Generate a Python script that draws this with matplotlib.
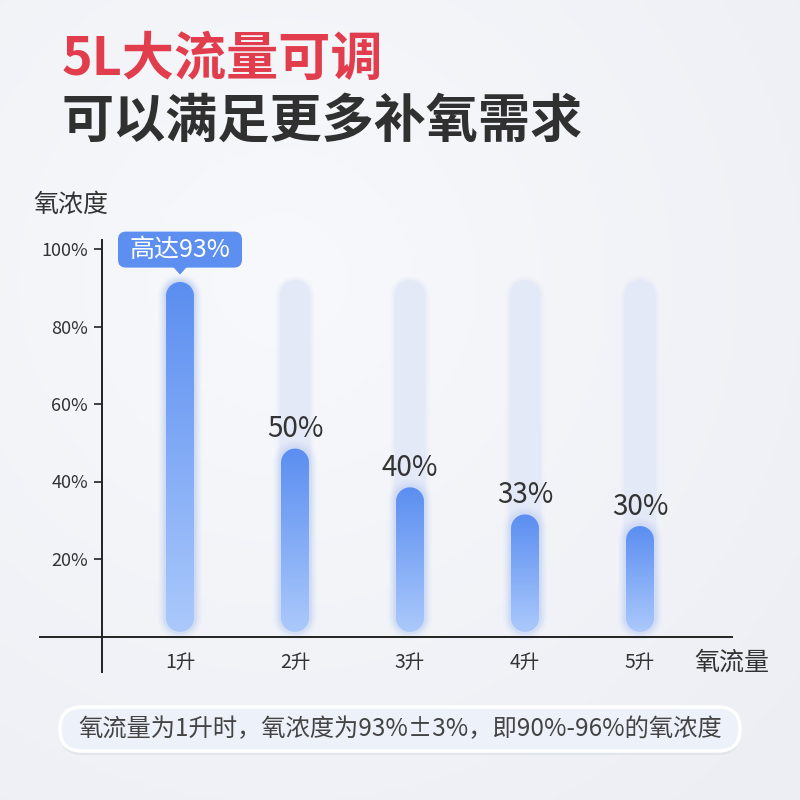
import numpy as np
import matplotlib
matplotlib.use('Agg')
import matplotlib.pyplot as plt
from matplotlib.patches import FancyBboxPatch, Polygon
from matplotlib.colors import LinearSegmentedColormap

plt.rcParams['font.family'] = ['Noto Sans CJK SC', 'DejaVu Sans']

# ---------------- data ----------------
categories = ['1升', '2升', '3升', '4升', '5升']
values = [93, 50, 40, 33, 30]
value_labels = ['高达93%', '50%', '40%', '33%', '30%']
yticks = [20, 40, 60, 80, 100]
ytick_labels = ['20%', '40%', '60%', '80%', '100%']
track_max = 92
title_1 = '5L大流量可调'
title_2 = '可以满足更多补氧需求'
y_title = '氧浓度'
x_title = '氧流量'
note = '氧流量为1升时，氧浓度为93%±3%，即90%-96%的氧浓度'

fig = plt.figure(figsize=(8, 8), dpi=100)

# ---------------- background ----------------
bg = fig.add_axes([0, 0, 1, 1], zorder=0)
yy, xx = np.mgrid[0:1:300j, 0:1:300j]
d = np.sqrt((xx - 0.35) ** 2 + (yy - 0.35) ** 2)
val = np.clip(d / 0.9, 0, 1)
bgcmap = LinearSegmentedColormap.from_list('bg', ['#f8f9fc', '#eceef4'])
bg.imshow(val, extent=[0, 800, 800, 0], cmap=bgcmap, vmin=0, vmax=1, aspect='auto')
bg.set_xlim(0, 800)
bg.set_ylim(800, 0)
bg.axis('off')

# note box
shadow = FancyBboxPatch((60, 711), 680, 44, boxstyle='round,pad=0,rounding_size=22',
                        fc='#d3d8e4', ec='none', alpha=0.45)
bg.add_patch(shadow)
box = FancyBboxPatch((60, 707), 680, 44, boxstyle='round,pad=0,rounding_size=22',
                     fc='#edf1f9', ec='white', lw=2.5)
bg.add_patch(box)
bg.text(400, 729, note, ha='center', va='center', fontsize=17.5, color='#444444')

# titles
fig.text(62 / 800, 1 - 59 / 800, title_1, ha='left', va='center', fontsize=37.5,
         fontweight='bold', color='#e13d4c')
fig.text(62 / 800, 1 - 121 / 800, title_2, ha='left', va='center', fontsize=37.5,
         fontweight='bold', color='#303030')
fig.text(33 / 800, 1 - 205 / 800, y_title, ha='left', va='center', fontsize=18, color='#333333')
fig.text(694 / 800, 1 - 663 / 800, x_title, ha='left', va='center', fontsize=18, color='#333333')

# ---------------- main axes ----------------
px_per_cat = 115.0
px_per_pct = 3.875
x0_px = 180.0
y0_px = 636.5

def px2x(px):
    return (px - x0_px) / px_per_cat

def py2y(py):
    return (y0_px - py) / px_per_pct

ax = fig.add_axes([40 / 800, 128 / 800, 692 / 800, 432 / 800], zorder=2)
ax.patch.set_alpha(0)
xlim = (px2x(40), px2x(732))
ylim = (py2y(672), py2y(240))

x = np.arange(len(categories))
base = 1.2

cmap = LinearSegmentedColormap.from_list('bar', ['#abc9fb', '#5b8ef1'])
grad = np.linspace(0, 1, 256).reshape(-1, 1)

def pill(cx, y0, y1, w_px, **kw):
    """Vertical capsule whose caps are true semicircles on screen."""
    rx = w_px / 2 / px_per_cat
    ry = w_px / 2 / px_per_pct
    if (y1 - y0) < 2 * ry:
        ry = (y1 - y0) / 2
    t_top = np.linspace(0, np.pi, 40)
    t_bot = np.linspace(np.pi, 2 * np.pi, 40)
    top = np.column_stack([cx + rx * np.cos(t_top), (y1 - ry) + ry * np.sin(t_top)])
    bot = np.column_stack([cx + rx * np.cos(t_bot), (y0 + ry) + ry * np.sin(t_bot)])
    return Polygon(np.vstack([top, bot]), closed=True, **kw)

for i, v in enumerate(values):
    # track
    for extra, a in [(8, 0.2), (4, 0.4), (0, 1.0)]:
        ax.add_patch(pill(x[i], base - extra / 2 / px_per_pct, track_max + extra / 2 / px_per_pct,
                          31 + extra, fc='#e4e9f7', ec='none', alpha=a, zorder=1))
    top = v - 1.5
    # glow
    for extra, a in [(16, 0.04), (11, 0.06), (6, 0.08)]:
        ax.add_patch(pill(x[i], base - extra / 2 / px_per_pct, top + extra / 2 / px_per_pct,
                          28 + extra, fc='#6c9bf4', ec='none', alpha=a, zorder=2))
    p = pill(x[i], base, top, 28, fc='none', ec='none', zorder=3)
    ax.add_patch(p)
    bw = 28 / px_per_cat
    im = ax.imshow(grad, extent=[x[i] - bw / 2, x[i] + bw / 2, base, top], origin='lower',
                   cmap=cmap, aspect='auto', zorder=3, interpolation='bilinear')
    im.set_clip_path(p)
    if i > 0:
        ax.annotate(value_labels[i], (x[i], top), xytext=(0, 3), textcoords='offset points',
                    ha='center', va='bottom', fontsize=20, color='#333333')

# bubble for first bar
v0 = values[0]
bub_w = 124 / px_per_cat
bub_h = 36 / px_per_pct
bub_y = v0 + 2.2
bub = FancyBboxPatch((x[0] - bub_w / 2, bub_y), bub_w, bub_h,
                     boxstyle=f'round,pad=0,rounding_size={8 / px_per_cat}',
                     mutation_aspect=px_per_cat / px_per_pct, fc='#5c8ff0', ec='none',
                     zorder=5, clip_on=False)
ax.add_patch(bub)
tri = Polygon([(x[0] - 7 / px_per_cat, bub_y + 0.2), (x[0] + 7 / px_per_cat, bub_y + 0.2),
               (x[0], bub_y - 7 / px_per_pct)], closed=True, fc='#5c8ff0', ec='none',
              zorder=5, clip_on=False)
ax.add_patch(tri)
ax.text(x[0], bub_y + bub_h / 2, value_labels[0], ha='center', va='center', fontsize=18,
        color='white', zorder=6, clip_on=False)

ax.set_xlim(*xlim)
ax.set_ylim(*ylim)
for s in ['top', 'right']:
    ax.spines[s].set_visible(False)
ax.spines['bottom'].set_position(('data', 0))
ax.spines['left'].set_position(('data', px2x(102)))
ax.spines['left'].set_bounds(ylim[0], ylim[1])
for s in ['bottom', 'left']:
    ax.spines[s].set_color('#222222')
    ax.spines[s].set_linewidth(1.4)

ax.set_yticks(yticks)
ax.set_yticklabels(ytick_labels)
ax.set_xticks(x)
ax.set_xticklabels(categories)
ax.tick_params(axis='y', direction='out', length=6, width=1.2, color='#222222',
               labelsize=13, labelcolor='#333333', pad=4)
ax.tick_params(axis='x', length=0, labelsize=14, labelcolor='#333333', pad=11)

fig.savefig('out.png', dpi=100)
